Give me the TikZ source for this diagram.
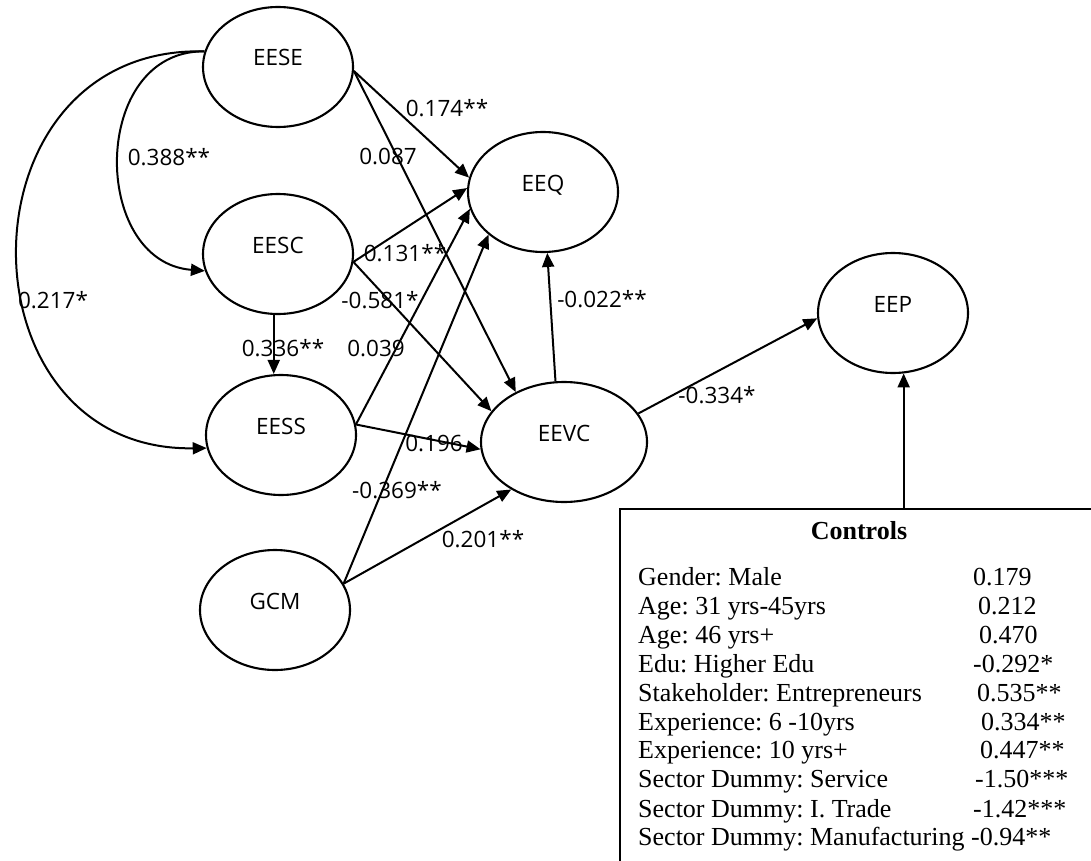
\documentclass[tikz,border=0pt]{standalone}
\usepackage{fontspec}
\newfontfamily\labfont{Open Sans}
\newfontfamily\tnrfont{Liberation Serif}
\usetikzlibrary{arrows.meta,shapes.geometric}
\frenchspacing
\begin{document}
\begin{tikzpicture}[x=1pt,y=-1pt,
  lv/.style={draw, ellipse, line width=2.1pt, minimum width=150pt, minimum height=120pt,
    inner sep=0pt, font=\labfont\fontsize{22.5}{27}\selectfont, text height=16pt, text depth=18pt},
  arr/.style={line width=2pt, -{Triangle[length=14pt,width=12pt]}},
  coef/.style={inner sep=0pt, font=\labfont\fontsize{22.5}{27}\selectfont},
  ctl/.style={anchor=base west, inner sep=0pt, font=\tnrfont\fontsize{26}{30}\selectfont}]
\useasboundingbox (0,0) rectangle (1091,861);
\clip (0,0) rectangle (1091,861);

% latent variables
\node[lv] (EESE) at (278,67) {EESE};
\node[lv] (EESC) at (278,254) {EESC};
\node[lv] (EESS) at (281,435) {EESS};
\node[lv] (GCM) at (275,610) {GCM};
\node[lv] (EEQ) at (543,192) {EEQ};
\node[lv, minimum width=166pt] (EEVC) at (564,442) {EEVC};
\node[lv] (EEP) at (893,313) {EEP};

% controls box
\node[draw, line width=2.2pt, anchor=north west, minimum width=520pt, minimum height=400pt, inner sep=0pt] (box) at (619,508) {};
\node[anchor=base, inner sep=0pt, font=\tnrfont\bfseries\fontsize{26}{30}\selectfont] (ctitle) at (859,539) {Controls};
\node[ctl] (c1) at (638,585) {Gender: Male};
\node[ctl] (v1) at (973,585) {0.179};
\node[ctl] (c2) at (638,614) {Age: 31 yrs-45yrs};
\node[ctl] (v2) at (978,614) {0.212};
\node[ctl] (c3) at (638,643) {Age: 46 yrs+};
\node[ctl] (v3) at (979,643) {0.470};
\node[ctl] (c4) at (638,672) {Edu: Higher Edu};
\node[ctl] (v4) at (973,672) {-0.292*};
\node[ctl] (c5) at (638,701) {Stakeholder: Entrepreneurs};
\node[ctl] (v5) at (977,701) {0.535**};
\node[ctl] (c6) at (638,730) {Experience: 6 -10yrs};
\node[ctl] (v6) at (981,730) {0.334**};
\node[ctl] (c7) at (638,758) {Experience: 10 yrs+};
\node[ctl] (v7) at (980,758) {0.447**};
\node[ctl] (c8) at (638,787) {Sector Dummy: Service};
\node[ctl] (v8) at (975,787) {-1.50***};
\node[ctl] (c9) at (638,817) {Sector Dummy: I. Trade};
\node[ctl] (v9) at (973,817) {-1.42***};
\node[ctl] (c10) at (638,845) {Sector Dummy: Manufacturing -0.94**};

% curved paths
\draw[arr] (EESE.168) .. controls (90,50) and (90,262) .. (EESC.193);
\draw[arr] (EESE.168) .. controls (-45,45) and (-45,452) .. (EESS.190);

% straight paths
\draw[arr] (EESE.-3) -- (EEQ.169);
\draw[arr] (EESE.-3) -- (EEVC.134);
\draw[arr] (EESC.-6) -- (EEQ.177);
\draw[arr] (EESC.-6) -- (EEVC.157);
\draw[arr] (EESS.8) -- (EEQ.193);
\draw[arr] (EESS.8) -- (EEVC.185);
\draw[arr] (GCM.21) -- (EEQ.218);
\draw[arr] (GCM.21) -- (EEVC.222);
\draw[arr] (EEVC.98) -- (EEQ.-86);
\draw[arr] (EEVC.21) -- (EEP.184);
\draw[arr] (EESC.-94) -- (EESC.-94 |- EESS.north);
\draw[arr] (EEP.-80 |- box.north) -- (EEP.-80);

% coefficients
\node[coef] (l388) at (169,157) {0.388**};
\node[coef] (l217) at (53,300) {0.217*};
\node[coef] (l174) at (447,108) {0.174**};
\node[coef] (l087) at (388,157) {0.087};
\node[coef] (l131) at (405,253) {0.131**};
\node[coef] (l581) at (380,300) {-0.581*};
\node[coef] (l336) at (283,348) {0.336**};
\node[coef] (l039) at (376,348) {0.039};
\node[coef] (l196) at (434,443) {0.196};
\node[coef] (l369) at (397,490) {-0.369**};
\node[coef] (l201) at (483,539) {0.201**};
\node[coef] (l022) at (602,299) {-0.022**};
\node[coef] (l334) at (717,395) {-0.334*};
\end{tikzpicture}
\end{document}
